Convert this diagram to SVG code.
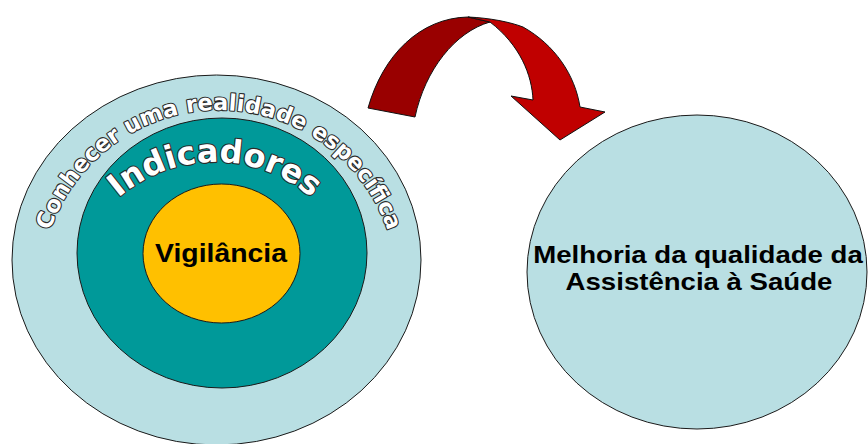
<svg xmlns="http://www.w3.org/2000/svg" width="868" height="444" viewBox="0 0 868 444">
<style>
.ring{stroke:#1a1a1a;stroke-width:1}
.arc{font-family:"DejaVu Sans","Liberation Sans",Arial,sans-serif;font-weight:bold;fill:#ffffff;stroke:#2a2a2a;stroke-width:2.2;paint-order:stroke;stroke-linejoin:round}
.lbl{font-family:"Liberation Sans",Arial,sans-serif;font-weight:bold;fill:#000000;text-anchor:middle}
.arr{stroke:#111111;stroke-width:1;stroke-linejoin:round}
</style>
<defs>
<path id="p_outer" d="M 40.5,288.5 A 178.5,178.5 0 0 1 397.5,288.5"/>
<path id="p_ind" d="M 67,310 A 148,148 0 0 1 363,310"/>
</defs>
<rect width="868" height="444" fill="#ffffff"/>
<g id="node-conhecer">
<ellipse class="ring" cx="216.5" cy="260" rx="204.5" ry="185" fill="#b9dfe3"/>
<text class="arc" font-size="22.5"><textPath href="#p_outer" startOffset="50%" text-anchor="middle">Conhecer uma realidade específica</textPath></text>
</g>
<g id="node-indicadores">
<ellipse class="ring" cx="222" cy="253" rx="145" ry="135" fill="#009999"/>
<text class="arc" font-size="32"><textPath href="#p_ind" startOffset="50%" text-anchor="middle">Indicadores</textPath></text>
</g>
<g id="node-vigilancia">
<ellipse class="ring" cx="221.5" cy="253.5" rx="78.5" ry="69.5" fill="#ffc000"/>
<text class="lbl" font-size="26.5" transform="translate(221,262) scale(1.07,1)" x="0" y="0">Vigilância</text>
</g>
<g id="node-melhoria">
<ellipse class="ring" cx="697" cy="272" rx="170" ry="157" fill="#b9dfe3"/>
<text class="lbl" font-size="23" transform="translate(698,263) scale(1.2,1)" x="0" y="0">Melhoria da qualidade da</text>
<text class="lbl" font-size="23" transform="translate(699,290) scale(1.2,1)" x="0" y="0">Assistência à Saúde</text>
</g>
<g id="connectors">
<path class="arr" fill="#990000" d="M368,108 C383,55 420,18 468,17 L490,22 C455,32 425,70 415,117 Z"/>
<path class="arr" fill="#c00000" d="M468,17 C490,18 510,22 523,27 C555,45 575,75 580,107 L605,112 L560,140 L511,96 L533,100 C532,75 520,45 490,22 Z"/>
</g>
</svg>
